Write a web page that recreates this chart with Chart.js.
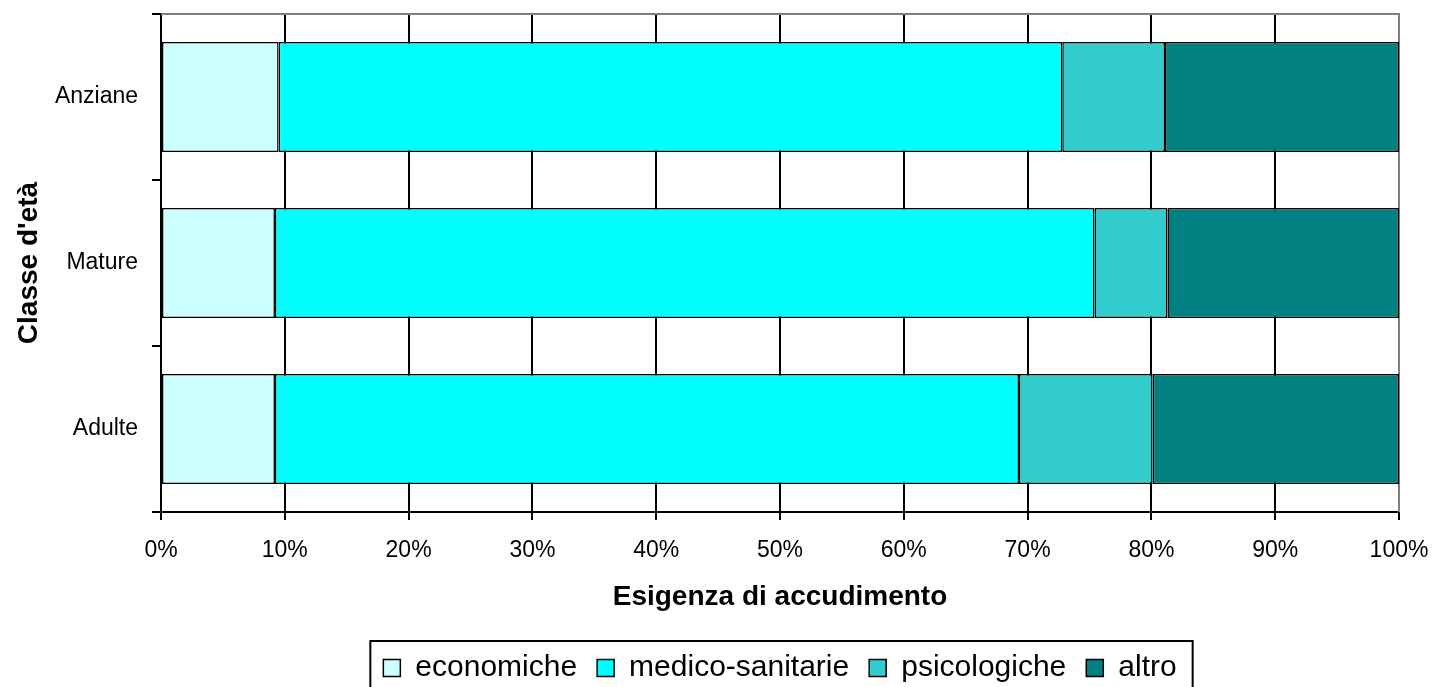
<!DOCTYPE html>
<html><head><meta charset="utf-8">
<script src="https://cdn.jsdelivr.net/npm/chart.js@4"></script>
<style>html,body{margin:0;padding:0;background:#fff;}canvas{display:block;}</style>
</head><body>
<canvas id="c" width="1434" height="687"></canvas>
<script>
// ---- data ----
const categories = ['Anziane', 'Mature', 'Adulte'];
const seriesNames = ['economiche', 'medico-sanitarie', 'psicologiche', 'altro'];
const economiche = [9.5, 9.2, 9.2];
const medicoSanitarie = [63.3, 66.2, 60.1];
const psicologiche = [8.3, 5.9, 10.8];
const altro = [18.9, 18.7, 19.9];
const xTickStep = 10;
const xTickSuffix = '%';
const xTitle = 'Esigenza di accudimento';
const yTitle = "Classe d'età";
const seriesColors = ['#CCFFFF', '#00FFFF', '#33CCCC', '#008080'];

const FONT = '"Liberation Sans", Arial, Helvetica, sans-serif';
Chart.defaults.font.family = FONT;
Chart.defaults.color = '#000';

const seriesValues = [economiche, medicoSanitarie, psicologiche, altro];
const datasets = seriesNames.map((name, i) => ({
  label: name,
  data: seriesValues[i],
  backgroundColor: seriesColors[i],
  borderColor: '#000',
  borderWidth: 1.5,
  borderSkipped: false,
  barPercentage: 0.663,
  categoryPercentage: 1
}));

const framePlugin = {
  id: 'frame',
  afterLayout(chart) {
    // centre the legend under the plot area
    const lg = chart.legend, a = chart.chartArea;
    if (lg) { lg.left = a.left; lg.right = a.right; lg.width = a.right - a.left; }
  },
  beforeDatasetsDraw(chart) {
    const {ctx, chartArea: a} = chart;
    ctx.save();
    ctx.strokeStyle = '#808080';
    ctx.lineWidth = 2;
    ctx.beginPath();
    ctx.moveTo(a.left, a.top);
    ctx.lineTo(a.right, a.top);
    ctx.lineTo(a.right, a.bottom);
    ctx.stroke();
    ctx.restore();
  },
  afterDraw(chart) {
    const lg = chart.legend;
    if (!lg || !lg.legendHitBoxes || !lg.legendHitBoxes.length) return;
    const hb = lg.legendHitBoxes;
    let l = Infinity, r = -Infinity, t = Infinity;
    hb.forEach(h => { l = Math.min(l, h.left); r = Math.max(r, h.left + h.width); t = Math.min(t, h.top); });
    const ctx = chart.ctx;
    ctx.save();
    ctx.strokeStyle = '#000';
    ctx.lineWidth = 2;
    ctx.strokeRect(l - 13, t - 12, (r + 16) - (l - 13), 200);
    ctx.restore();
  }
};

new Chart(document.getElementById('c'), {
  type: 'bar',
  data: { labels: categories, datasets },
  plugins: [framePlugin],
  options: {
    indexAxis: 'y',
    responsive: false,
    animation: false,
    layout: { padding: { left: 0, right: 35, top: 14, bottom: 0 } },
    scales: {
      x: {
        stacked: true,
        min: 0, max: 100,
        afterFit(s) { s.height = 121; s.paddingLeft = 0; s.paddingRight = 0; },
        ticks: {
          stepSize: xTickStep,
          callback: v => v + xTickSuffix,
          font: { size: 23 },
          color: '#000',
          padding: 17,
          maxRotation: 0
        },
        grid: {
          color: c => (c.tick && c.tick.value === 100) ? '#808080' : '#000',
          lineWidth: 2,
          tickLength: 8,
          tickColor: '#000',
          tickWidth: 2
        },
        border: { color: '#000', width: 2 },
        title: {
          display: true, text: xTitle,
          font: { size: 28, weight: 'bold' },
          color: '#000',
          padding: { top: 0, bottom: 19 }
        }
      },
      y: {
        stacked: true,
        afterFit(s) { s.width = 161; s.paddingTop = 0; s.paddingBottom = 0; },
        ticks: { font: { size: 23 }, color: '#000', padding: 14 },
        grid: {
          offset: true,
          drawOnChartArea: false,
          tickLength: 9,
          color: '#000',
          lineWidth: 2
        },
        border: { color: '#000', width: 2 },
        title: {
          display: true, text: yTitle,
          font: { size: 28, weight: 'bold' },
          color: '#000',
          padding: { top: 12, bottom: 0 }
        }
      }
    },
    plugins: {
      tooltip: { enabled: false },
      legend: {
        display: true,
        position: 'bottom',
        align: 'center',
        maxHeight: 54,
        labels: {
          boxWidth: 17,
          boxHeight: 17,
          padding: 20,
          color: '#000',
          font: { size: 30 }
        }
      }
    }
  }
});
</script>
</body></html>
